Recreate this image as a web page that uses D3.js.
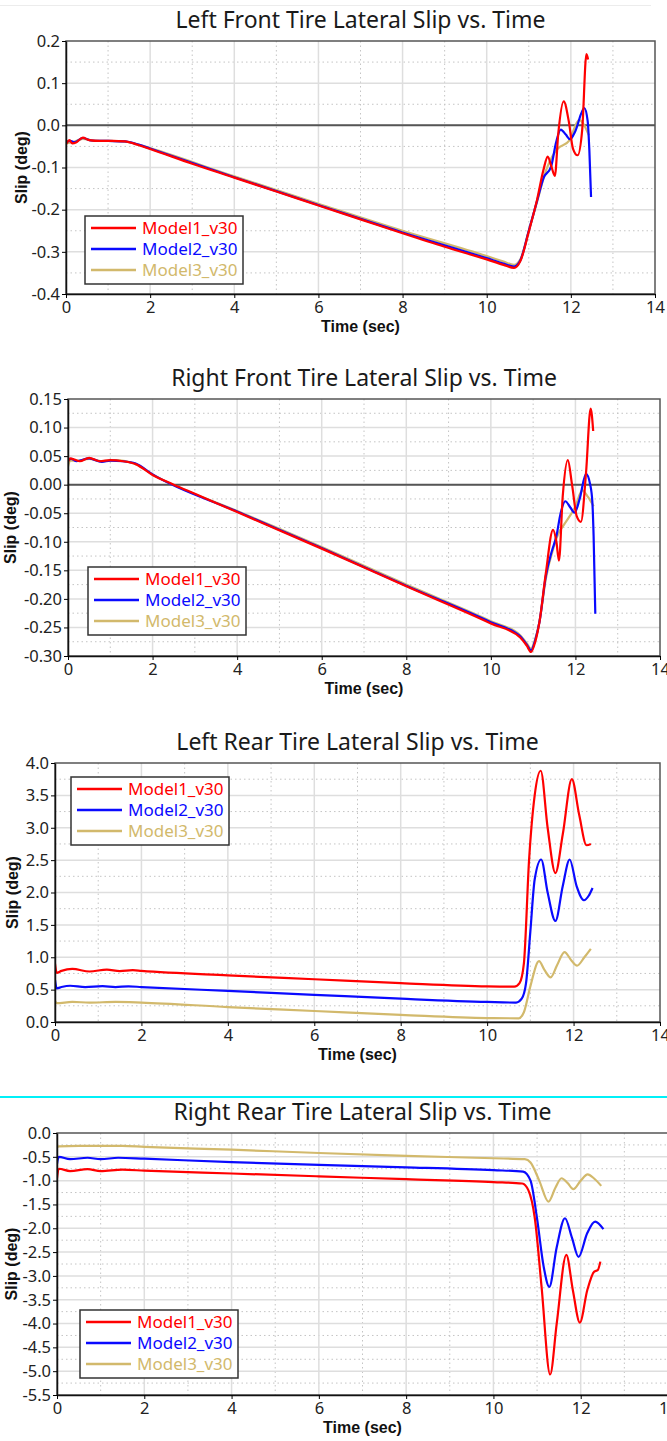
<!DOCTYPE html>
<html lang="en">
    <head>
        <meta charset="utf-8">
        <title>Tire Lateral Slip vs. Time</title>
        <script type="text/javascript" src="https://d3js.org/d3.v7.min.js"></script>
        <style type="text/css">
            body { margin: 0; background: #fff; }
            svg { display: block; }
        </style>
    </head>
    <body>
        <script type="text/javascript">

        //Consts
        const width = 667;
        const height = 1441;
        const models = ["Model1_v30", "Model2_v30", "Model3_v30"];
        const colors = ["#ff0000", "#0a0aff", "#d2b96c"];
        const xTicks = [0, 2, 4, 6, 8, 10, 12, 14];

        //Left front tire, [time, slip]
        const lfModel1 = [[0,-0.045],[0.08,-0.035],[0.15,-0.043],[0.25,-0.04],[0.4,-0.029],[0.55,-0.035],[0.8,-0.037],[1.1,-0.037],[1.4,-0.038],[1.7,-0.046],[2,-0.056],[3,-0.091],[4,-0.124],[5,-0.157],[6,-0.19],[7,-0.223],[8,-0.256],[9,-0.288],[10,-0.318],[10.4,-0.331],[10.65,-0.338],[10.8,-0.322],[11,-0.252],[11.2,-0.175],[11.35,-0.105],[11.45,-0.074],[11.53,-0.095],[11.62,-0.12],[11.7,-0.02],[11.83,0.057],[11.95,0.01],[12.05,-0.055],[12.16,-0.071],[12.27,-0.01],[12.37,0.169],[12.41,0.156]];
        const lfModel2 = [[0,-0.04],[0.1,-0.037],[0.2,-0.04],[0.4,-0.03],[0.6,-0.036],[1,-0.037],[1.4,-0.038],[1.7,-0.045],[2,-0.055],[4,-0.123],[6,-0.189],[8,-0.254],[10,-0.315],[10.4,-0.328],[10.65,-0.335],[10.8,-0.32],[11,-0.25],[11.2,-0.178],[11.35,-0.125],[11.53,-0.098],[11.65,-0.04],[11.76,-0.01],[11.88,-0.022],[11.98,-0.033],[12.1,-0.015],[12.32,0.041],[12.4,0.01],[12.44,-0.06],[12.48,-0.17]];
        const lfModel3 = [[0,-0.043],[0.15,-0.04],[0.4,-0.032],[0.7,-0.037],[1,-0.037],[1.4,-0.039],[1.7,-0.045],[2,-0.054],[4,-0.121],[6,-0.186],[8,-0.25],[10,-0.31],[10.4,-0.323],[10.65,-0.331],[10.8,-0.318],[11,-0.25],[11.2,-0.18],[11.41,-0.107],[11.55,-0.075],[11.68,-0.056],[11.96,-0.036],[12.2,0.013],[12.32,0],[12.43,-0.024]];
        const lfTicks = [-0.4, -0.3, -0.2, -0.1, 0.0, 0.1, 0.2];

        //Right front tire
        const rfModel1 = [[0,0.04],[0.05,0.046],[0.15,0.044],[0.28,0.041],[0.5,0.047],[0.75,0.041],[1,0.043],[1.3,0.041],[1.6,0.036],[2,0.017],[2.5,0],[3,-0.016],[4,-0.048],[6,-0.112],[8,-0.178],[10,-0.243],[10.7,-0.268],[10.85,-0.282],[10.95,-0.293],[11.05,-0.275],[11.15,-0.24],[11.3,-0.155],[11.47,-0.079],[11.55,-0.1],[11.61,-0.133],[11.7,-0.02],[11.82,0.043],[11.92,0],[12.03,-0.055],[12.13,-0.065],[12.25,0.02],[12.36,0.133],[12.42,0.094]];
        const rfModel2 = [[0,0.044],[0.08,0.045],[0.2,0.041],[0.5,0.046],[0.8,0.04],[1,0.042],[1.3,0.041],[1.6,0.037],[2,0.018],[4,-0.047],[6,-0.111],[8,-0.177],[10,-0.241],[10.7,-0.266],[10.85,-0.28],[10.95,-0.29],[11.05,-0.272],[11.15,-0.24],[11.3,-0.16],[11.44,-0.117],[11.55,-0.09],[11.65,-0.05],[11.76,-0.029],[11.88,-0.04],[11.98,-0.049],[12.1,-0.025],[12.25,0.019],[12.35,0],[12.4,-0.03],[12.43,-0.09],[12.47,-0.226]];
        const rfModel3 = [[0,0.032],[0.05,0.042],[0.2,0.042],[0.5,0.045],[0.8,0.041],[1.1,0.043],[1.6,0.036],[2,0.018],[4,-0.046],[6,-0.109],[8,-0.175],[10,-0.239],[10.7,-0.264],[10.85,-0.278],[10.95,-0.287],[11.05,-0.27],[11.15,-0.24],[11.3,-0.165],[11.49,-0.108],[11.6,-0.085],[11.73,-0.07],[12,-0.038],[12.16,-0.01],[12.3,-0.022],[12.43,-0.038]];
        const rfTicks = [-0.30, -0.25, -0.20, -0.15, -0.10, -0.05, 0.00, 0.05, 0.10, 0.15];

        //Left rear tire
        const lrModel1 = [[0,0.9],[0.04,0.76],[0.15,0.79],[0.4,0.82],[0.8,0.78],[1.2,0.81],[1.5,0.785],[1.8,0.8],[2,0.79],[4,0.72],[6,0.66],[8,0.6],[10,0.55],[10.63,0.545],[10.75,0.6],[10.85,0.9],[10.97,2.5],[11.1,3.5],[11.24,3.88],[11.4,3.0],[11.58,2.3],[11.75,2.9],[11.96,3.75],[12.13,3.2],[12.3,2.73],[12.4,2.75]];
        const lrModel2 = [[0,0.65],[0.04,0.52],[0.15,0.54],[0.35,0.56],[0.7,0.54],[1.1,0.555],[1.4,0.54],[1.7,0.55],[2,0.54],[4,0.48],[6,0.42],[8,0.36],[10,0.31],[10.67,0.3],[10.8,0.36],[10.9,0.6],[11,1.4],[11.1,2.2],[11.25,2.51],[11.4,2.0],[11.58,1.56],[11.75,2.1],[11.91,2.51],[12.07,2.1],[12.24,1.88],[12.35,1.95],[12.44,2.07]];
        const lrModel3 = [[0,0.33],[0.04,0.29],[0.4,0.31],[0.8,0.3],[1.4,0.31],[2,0.3],[4,0.23],[6,0.17],[8,0.11],[10,0.06],[10.73,0.057],[10.85,0.15],[11,0.55],[11.2,0.94],[11.33,0.8],[11.47,0.69],[11.62,0.88],[11.79,1.08],[11.95,0.95],[12.08,0.87],[12.25,1.0],[12.4,1.13]];
        const lrTicks = [0.0, 0.5, 1.0, 1.5, 2.0, 2.5, 3.0, 3.5, 4.0];

        //Right rear tire
        const rrModel1 = [[0,-0.95],[0.04,-0.75],[0.3,-0.8],[0.7,-0.76],[1,-0.8],[1.5,-0.77],[2,-0.79],[4,-0.85],[6,-0.91],[8,-0.97],[10,-1.03],[10.66,-1.06],[10.8,-1.2],[10.95,-1.8],[11.1,-3.2],[11.3,-5.07],[11.45,-4.0],[11.67,-2.56],[11.82,-3.3],[11.98,-3.98],[12.15,-3.3],[12.31,-2.91],[12.39,-2.88],[12.45,-2.7]];
        const rrModel2 = [[0,-0.65],[0.04,-0.5],[0.3,-0.55],[0.7,-0.52],[1,-0.55],[1.4,-0.52],[2,-0.54],[4,-0.61],[6,-0.67],[8,-0.72],[10,-0.78],[10.68,-0.81],[10.85,-1.0],[11,-1.8],[11.15,-2.8],[11.28,-3.23],[11.45,-2.4],[11.64,-1.79],[11.8,-2.2],[11.95,-2.6],[12.15,-2.1],[12.33,-1.86],[12.52,-2.02]];
        const rrModel3 = [[0,-0.3],[0.04,-0.28],[0.5,-0.27],[1.5,-0.27],[2,-0.29],[4,-0.35],[6,-0.42],[8,-0.48],[10,-0.53],[10.72,-0.55],[10.85,-0.62],[11.05,-1.0],[11.26,-1.44],[11.42,-1.15],[11.56,-0.95],[11.7,-1.05],[11.83,-1.18],[12,-1.0],[12.16,-0.87],[12.3,-0.95],[12.47,-1.11]];
        const rrTicks = [-5.5, -5.0, -4.5, -4.0, -3.5, -3.0, -2.5, -2.0, -1.5, -1.0, -0.5, 0.0];

        //Panel layout
        const panels = [
            {title: "Left Front Tire Lateral Slip vs. Time", series: [lfModel1, lfModel2, lfModel3], ticks: lfTicks, dec: 1,
             left: 66, right: 655, top: 41, bottom: 294, titleY: 28, slipX: 27, legend: [85, 216]},
            {title: "Right Front Tire Lateral Slip vs. Time", series: [rfModel1, rfModel2, rfModel3], ticks: rfTicks, dec: 2,
             left: 68, right: 660, top: 399, bottom: 656, titleY: 386, slipX: 16, legend: [88, 567]},
            {title: "Left Rear Tire Lateral Slip vs. Time", series: [lrModel1, lrModel2, lrModel3], ticks: lrTicks, dec: 1,
             left: 55, right: 660, top: 763, bottom: 1022, titleY: 750, slipX: 18, legend: [71, 777]},
            {title: "Right Rear Tire Lateral Slip vs. Time", series: [rrModel1, rrModel2, rrModel3], ticks: rrTicks, dec: 1,
             left: 57, right: 668, top: 1133, bottom: 1395, titleY: 1120, slipX: 17, legend: [80, 1310]}
        ];

        //SVG
        const svg = d3.select("body")
                    .append("svg")
                    .attr("width", width)
                    .attr("height", height);

        //thin separator lines seen in the screenshot
        svg.append("line")
            .attr("x1", 0).attr("x2", 651).attr("y1", 5.5).attr("y2", 5.5)
            .attr("stroke", "#ececec");
        svg.append("line")
            .attr("x1", 0).attr("x2", width).attr("y1", 1097).attr("y2", 1097)
            .attr("stroke", "#00f0f8").attr("stroke-width", 2);

        panels.forEach((p, i) => {
            const g = svg.append("g");
            const ticks = p.ticks;
            const yMin = ticks[0], yMax = ticks[ticks.length - 1];
            const step = ticks[1] - ticks[0];

            const xScale = d3.scaleLinear().domain([0, 14]).range([p.left, p.right]);
            const yScale = d3.scaleLinear().domain([yMin, yMax]).range([p.bottom, p.top]);

            //minor grid (dotted, half steps)
            const xMinor = xTicks.slice(0, -1).map(d => d + 1);
            const yMinor = ticks.slice(0, -1).map(d => d + step / 2);
            g.selectAll(".vminor").data(xMinor).enter().append("line")
                .attr("x1", d => xScale(d)).attr("x2", d => xScale(d))
                .attr("y1", p.top).attr("y2", p.bottom)
                .attr("stroke", "#c4c4c4").attr("stroke-dasharray", "1.5,3");
            g.selectAll(".hminor").data(yMinor).enter().append("line")
                .attr("x1", p.left).attr("x2", p.right)
                .attr("y1", d => yScale(d)).attr("y2", d => yScale(d))
                .attr("stroke", "#c4c4c4").attr("stroke-dasharray", "1.5,3");

            //major grid
            g.selectAll(".vmajor").data(xTicks.slice(1, -1)).enter().append("line")
                .attr("x1", d => xScale(d)).attr("x2", d => xScale(d))
                .attr("y1", p.top).attr("y2", p.bottom)
                .attr("stroke", "#dedede").attr("stroke-width", 1.5);
            g.selectAll(".hmajor").data(ticks.slice(1, -1)).enter().append("line")
                .attr("x1", p.left).attr("x2", p.right)
                .attr("y1", d => yScale(d)).attr("y2", d => yScale(d))
                .attr("stroke", "#dedede").attr("stroke-width", 1.5);

            //zero line
            if (yMin < 0 && yMax > 0) {
                g.append("line")
                    .attr("x1", p.left).attr("x2", p.right)
                    .attr("y1", yScale(0)).attr("y2", yScale(0))
                    .attr("stroke", "#555").attr("stroke-width", 2);
            }

            //clip + lines
            const clipId = "clip" + i;
            g.append("clipPath").attr("id", clipId).append("rect")
                .attr("x", p.left).attr("y", p.top)
                .attr("width", p.right - p.left).attr("height", p.bottom - p.top);

            const line = d3.line()
                .x(d => xScale(d[0]))
                .y(d => yScale(d[1]))
                .curve(d3.curveMonotoneX);

            // draw model 3 first so red sits on top
            [2, 1, 0].forEach(k => {
                g.append("path")
                    .attr("clip-path", "url(#" + clipId + ")")
                    .attr("d", line(p.series[k]))
                    .attr("fill", "none")
                    .attr("stroke", colors[k])
                    .attr("stroke-width", 2.2)
                    .attr("stroke-linejoin", "round");
            });

            //plot frame
            g.append("rect")
                .attr("x", p.left).attr("y", p.top)
                .attr("width", p.right - p.left).attr("height", p.bottom - p.top)
                .attr("fill", "none").attr("stroke", "#555").attr("stroke-width", 1.5);

            //Axes
            const leftAxis = d3.axisLeft(yScale)
                .tickValues(ticks)
                .tickFormat(d => d.toFixed(p.dec))
                .tickSize(4).tickSizeOuter(0).tickPadding(2);
            const ya = g.append("g")
                .attr("transform", "translate(" + p.left + ",0)")
                .call(leftAxis);

            const bottomAxis = d3.axisBottom(xScale)
                .tickValues(xTicks)
                .tickFormat(d3.format("d"))
                .tickSize(4).tickSizeOuter(0).tickPadding(3);
            const xa = g.append("g")
                .attr("transform", "translate(0," + p.bottom + ")")
                .call(bottomAxis);

            [ya, xa].forEach(a => {
                a.select(".domain").attr("stroke", "#111").attr("stroke-width", 1.5);
                a.selectAll("text")
                    .attr("font-family", "Noto Sans, sans-serif")
                    .attr("font-size", "16.5px")
                    .attr("fill", "#222");
            });

            //titles
            g.append("text")
                .attr("x", (p.left + p.right) / 2)
                .attr("y", p.titleY)
                .attr("text-anchor", "middle")
                .attr("font-family", "Noto Sans, sans-serif")
                .attr("font-size", "23px")
                .attr("fill", "#1a1a1a")
                .text(p.title);

            g.append("text")
                .attr("x", (p.left + p.right) / 2)
                .attr("y", p.bottom + 38)
                .attr("text-anchor", "middle")
                .attr("font-family", "Liberation Sans, Arial, sans-serif")
                .attr("font-weight", "bold")
                .attr("font-size", "16px")
                .attr("fill", "#111")
                .text("Time (sec)");

            g.append("text")
                .attr("transform", "translate(" + p.slipX + "," + ((p.top + p.bottom) / 2) + ") rotate(-90)")
                .attr("text-anchor", "middle")
                .attr("font-family", "Liberation Sans, Arial, sans-serif")
                .attr("font-weight", "bold")
                .attr("font-size", "16px")
                .attr("fill", "#111")
                .text("Slip (deg)");

            //Legend
            const lx = p.legend[0], ly = p.legend[1];
            const lg = g.append("g").attr("transform", "translate(" + lx + "," + ly + ")");
            lg.append("rect")
                .attr("width", 158).attr("height", 68)
                .attr("fill", "#fff").attr("stroke", "#333").attr("stroke-width", 1.5);
            models.forEach((m, k) => {
                const ry = 12 + k * 21;
                lg.append("line")
                    .attr("x1", 6).attr("x2", 51).attr("y1", ry).attr("y2", ry)
                    .attr("stroke", colors[k]).attr("stroke-width", 2.5);
                lg.append("text")
                    .attr("x", 57).attr("y", ry + 6)
                    .attr("font-family", "Noto Sans, sans-serif")
                    .attr("font-size", "17px")
                    .attr("fill", colors[k])
                    .text(m);
            });
        });
        </script>
    </body>
</html>
